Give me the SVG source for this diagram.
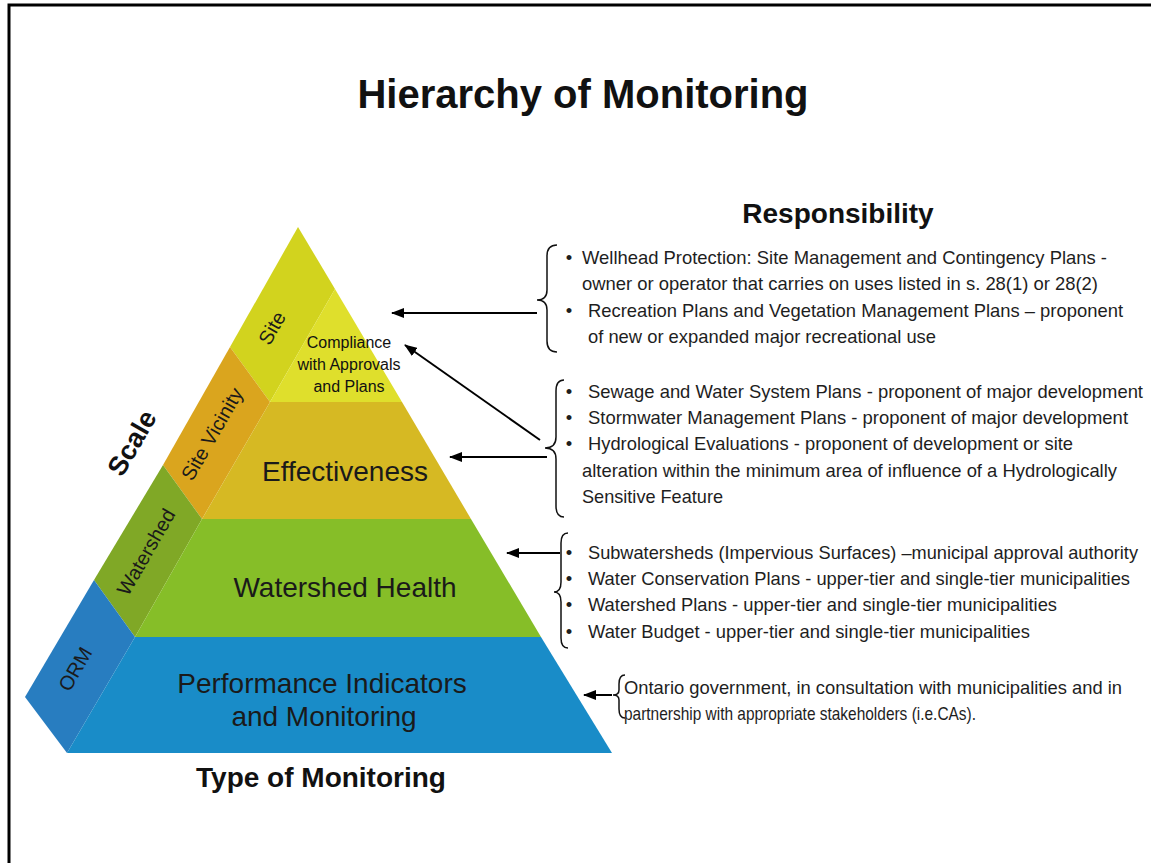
<svg xmlns="http://www.w3.org/2000/svg" width="1151" height="863" viewBox="0 0 1151 863">
<style>
text{font-family:"Liberation Sans",Arial,sans-serif;fill:#111}
.title{font-size:40px;font-weight:bold;text-anchor:middle}
.head{font-size:28px;font-weight:bold;text-anchor:middle}
.band{font-size:28px;text-anchor:middle;fill:#1a1a1a}
.side{font-size:20px;text-anchor:middle;dominant-baseline:central;fill:#1a1a1a}
.scale{font-size:27px;font-weight:bold;text-anchor:middle;dominant-baseline:central}
.comp{font-size:16px;text-anchor:middle}
.resp{font-size:18.5px;fill:#1e1e1e}
.bul{font-size:18.5px;text-anchor:middle;fill:#1e1e1e}
.brace{fill:none;stroke:#111;stroke-width:1.5}
.conn{stroke:#000;stroke-width:2;fill:none}
</style>
<defs>
<marker id="ah" markerWidth="13" markerHeight="10" refX="12" refY="5" orient="auto" markerUnits="userSpaceOnUse"><path d="M0,0 L13,5 L0,10 z" fill="#000"/></marker>
</defs>
<rect x="0" y="0" width="1151" height="863" fill="#fff"/>
<rect x="9" y="5" width="1170" height="890" fill="#fff" stroke="#000" stroke-width="3"/>

<text class="title" x="583" y="108">Hierarchy of Monitoring</text>
<text class="head" x="838" y="223">Responsibility</text>
<text class="head" x="321" y="787">Type of Monitoring</text>
<text class="scale" transform="translate(132,443) rotate(-60)">Scale</text>

<g id="site">
<polygon points="298,227 230,347 270,402 335,289" fill="#d2d31e"/>
<text class="side" transform="translate(272,328) rotate(-60)">Site</text>
</g>
<g id="compliance">
<polygon points="335,289 270,402 402,402" fill="#dfdf2c"/>
<text class="comp" x="349" y="348">Compliance</text>
<text class="comp" x="349" y="370">with Approvals</text>
<text class="comp" x="349" y="392">and Plans</text>
</g>
<g id="site-vicinity">
<polygon points="230,347 163,465 202,519 270,402" fill="#daa51e"/>
<text class="side" transform="translate(212,434) rotate(-60)">Site Vicinity</text>
</g>
<g id="effectiveness">
<polygon points="270,402 402,402 471,519 202,519" fill="#d6b923"/>
<text class="band" x="345" y="481">Effectiveness</text>
</g>
<g id="watershed">
<polygon points="163,465 94,580 135,637 202,519" fill="#80a826"/>
<text class="side" transform="translate(146,552) rotate(-60)">Watershed</text>
</g>
<g id="watershed-health">
<polygon points="202,519 471,519 541,637 135,637" fill="#86be28"/>
<text class="band" x="345" y="597">Watershed Health</text>
</g>
<g id="orm">
<polygon points="94,580 25,697 67,753 135,637" fill="#287dc0"/>
<text class="side" transform="translate(75,669) rotate(-60)">ORM</text>
</g>
<g id="performance">
<polygon points="135,637 541,637 612,753 67,753" fill="#198cc8"/>
<text class="band" x="322" y="693">Performance Indicators</text>
<text class="band" x="324" y="726">and Monitoring</text>
</g>

<g id="resp-site">
<path class="brace" d="M557,245 Q547,245 547,256 L547,290 Q547,300 537,300 Q547,300 547,310 L547,341 Q547,352 557,352"/>
<text class="bul" x="569" y="264">•</text>
<text class="resp" x="582" y="264" textLength="525" lengthAdjust="spacingAndGlyphs">Wellhead Protection: Site Management and Contingency Plans -</text>
<text class="resp" x="582" y="290" textLength="516" lengthAdjust="spacingAndGlyphs">owner or operator that carries on uses listed in s. 28(1) or 28(2)</text>
<text class="bul" x="569" y="317">•</text>
<text class="resp" x="588" y="317" textLength="535" lengthAdjust="spacingAndGlyphs">Recreation Plans and Vegetation Management Plans – proponent</text>
<text class="resp" x="588" y="343" textLength="348" lengthAdjust="spacingAndGlyphs">of new or expanded major recreational use</text>
</g>

<g id="resp-effectiveness">
<path class="brace" d="M564,380 Q556,380 556,391 L556,437 Q556,448 545,448 Q556,448 556,459 L556,506 Q556,517 564,517"/>
<text class="bul" x="569" y="398">•</text>
<text class="resp" x="588" y="398" textLength="555" lengthAdjust="spacingAndGlyphs">Sewage and Water System Plans - proponent of major development</text>
<text class="bul" x="569" y="424">•</text>
<text class="resp" x="588" y="424" textLength="540" lengthAdjust="spacingAndGlyphs">Stormwater Management Plans - proponent of major development</text>
<text class="bul" x="569" y="450">•</text>
<text class="resp" x="588" y="450" textLength="485" lengthAdjust="spacingAndGlyphs">Hydrological Evaluations - proponent of development or site</text>
<text class="resp" x="582" y="477" textLength="535" lengthAdjust="spacingAndGlyphs">alteration within the minimum area of influence of a Hydrologically</text>
<text class="resp" x="582" y="503" textLength="141" lengthAdjust="spacingAndGlyphs">Sensitive Feature</text>
</g>

<g id="resp-watershed">
<path class="brace" d="M568,533 Q561,533 561,543 L561,582 Q561,592 554,592 Q561,592 561,602 L561,638 Q561,648 568,648"/>
<text class="bul" x="569" y="559">•</text>
<text class="resp" x="588" y="559" textLength="550" lengthAdjust="spacingAndGlyphs">Subwatersheds (Impervious Surfaces) –municipal approval authority</text>
<text class="bul" x="569" y="585">•</text>
<text class="resp" x="588" y="585" textLength="542" lengthAdjust="spacingAndGlyphs">Water Conservation Plans - upper-tier and single-tier municipalities</text>
<text class="bul" x="569" y="611">•</text>
<text class="resp" x="588" y="611" textLength="469" lengthAdjust="spacingAndGlyphs">Watershed Plans - upper-tier and single-tier municipalities</text>
<text class="bul" x="569" y="638">•</text>
<text class="resp" x="588" y="638" textLength="442" lengthAdjust="spacingAndGlyphs">Water Budget - upper-tier and single-tier municipalities</text>
</g>

<g id="resp-orm">
<path class="brace" d="M625,675 Q619,675 619,684 L619,690 Q619,695 613,695 Q619,695 619,700 L619,709 Q619,718 625,718"/>
<text class="resp" x="624" y="694" textLength="498" lengthAdjust="spacingAndGlyphs">Ontario government, in consultation with municipalities and in</text>
<text class="resp" x="624" y="720" textLength="352" lengthAdjust="spacingAndGlyphs">partnership with appropriate stakeholders (i.e.CAs).</text>
</g>

<g id="connectors">
<path class="conn" d="M537,313 L392,313" marker-end="url(#ah)"/>
<path class="conn" d="M540,440 L405,345" marker-end="url(#ah)"/>
<path class="conn" d="M547,457 L450,457" marker-end="url(#ah)"/>
<path class="conn" d="M560,553 L507,553" marker-end="url(#ah)"/>
<path class="conn" d="M612,695 L584,695" marker-end="url(#ah)"/>
</g>
</svg>
